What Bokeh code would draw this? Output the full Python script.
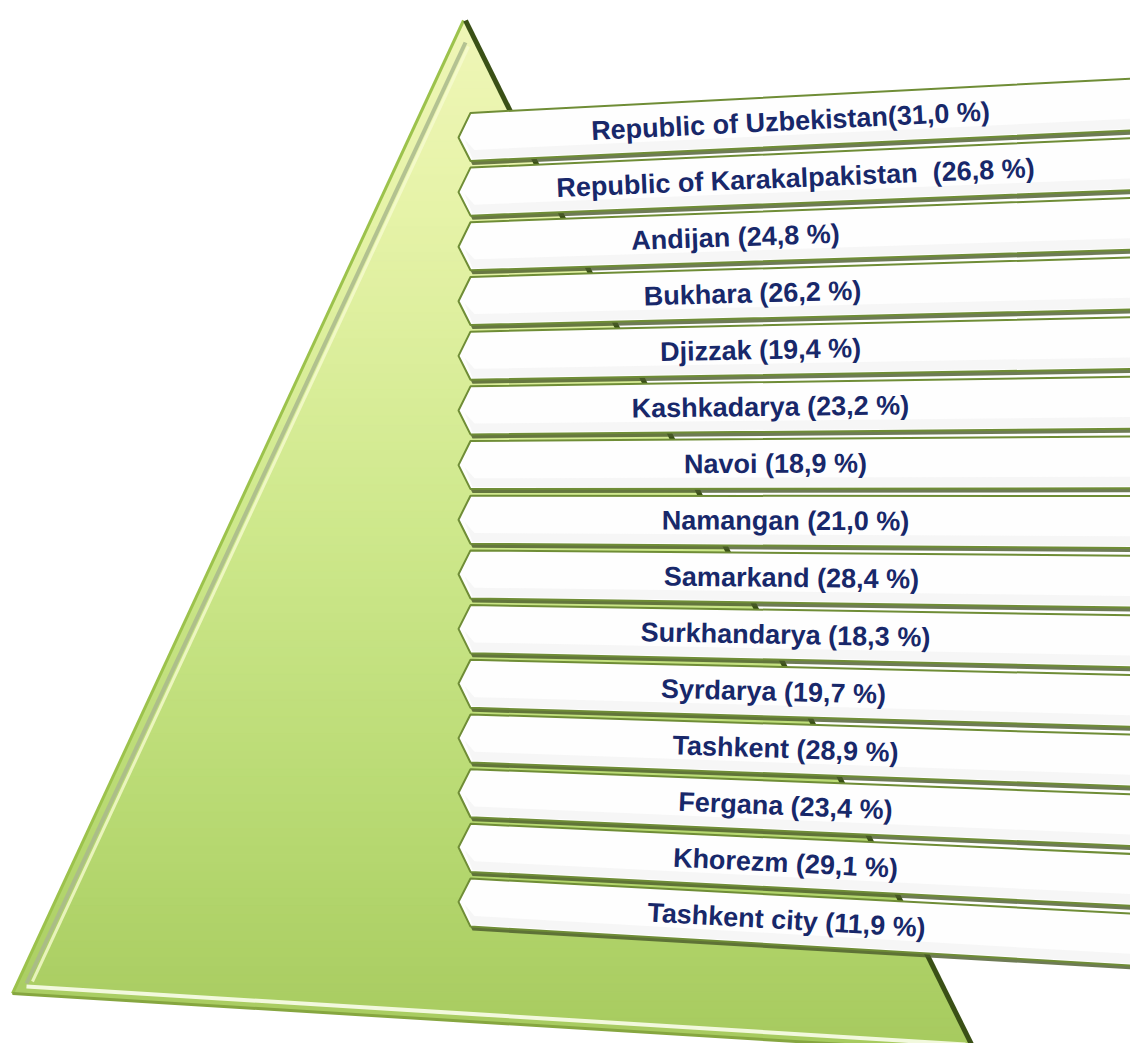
import math
from bokeh.plotting import figure
from bokeh.models import Range1d
from bokeh.embed import file_html
from bokeh.resources import INLINE
from bokeh.core.properties import value

# ---------------- data ----------------
regions = ["Republic of Uzbekistan", "Republic of Karakalpakistan", "Andijan", "Bukhara",
           "Djizzak", "Kashkadarya", "Navoi", "Namangan", "Samarkand", "Surkhandarya",
           "Syrdarya", "Tashkent", "Fergana", "Khorezm", "Tashkent city"]
shares = [31.0, 26.8, 24.8, 26.2, 19.4, 23.2, 18.9, 21.0, 28.4, 18.3, 19.7, 28.9, 23.4, 29.1, 11.9]
separators = ["", " \u00a0", " ", " ", " ", " ", " ", " ", " ", " ", " ", " ", " ", " ", " "]

labels = [f"{r}{s}({format(v, '.1f').replace('.', ',')} %)"
          for r, s, v in zip(regions, separators, shares)]

# ---------------- layout (screen-pixel coordinates) ----------------
W, H = 1130, 1043
p = figure(width=W, height=H, output_backend="svg", toolbar_location=None,
           x_range=Range1d(0, W), y_range=Range1d(H, 0),
           min_border=0, outline_line_color=None, background_fill_color="white")
p.axis.visible = False
p.grid.visible = False

# pyramid triangle
A, B, C = (463, 20), (975, 1052), (12, 993)
tri = [A, B, C]


def clip(pts, keep, ycut):
    out = []
    n = len(pts)
    for k in range(n):
        P, Q = pts[k], pts[(k + 1) % n]
        pin, qin = keep(P), keep(Q)
        if pin:
            out.append(P)
        if pin != qin:
            t = (ycut - P[1]) / (Q[1] - P[1])
            out.append((P[0] + t * (Q[0] - P[0]), ycut))
    return out


def band(pts, y0, y1):
    pts = clip(pts, lambda q: q[1] >= y0, y0)
    if not pts:
        return pts
    return clip(pts, lambda q: q[1] <= y1, y1)


stops = [(0.0, (240, 246, 184)), (0.2, (230, 243, 168)), (0.5, (206, 232, 140)),
         (0.8, (182, 216, 112)), (1.0, (166, 202, 94))]


def grad(t):
    for (t0, c0), (t1, c1) in zip(stops[:-1], stops[1:]):
        if t <= t1:
            f = (t - t0) / (t1 - t0)
            return "#%02x%02x%02x" % tuple(int(round(a + (b - a) * f)) for a, b in zip(c0, c1))
    return "#%02x%02x%02x" % stops[-1][1]


xs, ys, cols = [], [], []
nb = 120
for k in range(nb):
    y0 = 20 + (1052 - 20) * k / nb
    y1 = 20 + (1052 - 20) * (k + 1) / nb
    poly = band(tri, y0, y1)
    if len(poly) >= 3:
        xs.append([q[0] for q in poly])
        ys.append([q[1] for q in poly])
        cols.append(grad((y0 + y1) / 2 / 1052))
p.patches(xs, ys, fill_color=cols, line_color=cols, line_width=1)

# bevel edges
p.line([A[0] + 2, C[0] + 14], [A[1] + 22, C[1] - 10], line_color="#a9b98c", line_width=4, line_alpha=0.85)
p.line([A[0] + 5, C[0] + 20], [A[1] + 26, C[1] - 12], line_color="#f6fbd0", line_width=3, line_alpha=0.8)
p.line([A[0], C[0]], [A[1], C[1]], line_color="#9cc24c", line_width=3)
p.line([C[0] + 14, B[0] - 10], [C[1] - 7, B[1] - 8], line_color="#f6fbe4", line_width=4, line_alpha=0.95)
p.line([C[0], B[0]], [C[1], B[1]], line_color="#86a640", line_width=3)
p.line([A[0] + 2, B[0]], [A[1], B[1]], line_color="#3a5016", line_width=5)

# banners
XL, XR = 458, 1152
yl0, dyl = 137, 54.6
yr0, dyr = 103, 59.8
hl, hr = 24, 26
il, ir = 12, 16
label_x = [790, 795, 735, 752, 760, 770, 775, 785, 791, 785, 773, 785, 785, 785, 786]

for i, lab in enumerate(labels):
    yl = yl0 + i * dyl
    yr = yr0 + i * dyr

    def yc(x):
        return yl + (yr - yl) * (x - XL) / (XR - XL)

    def hh(x):
        return hl + (hr - hl) * (x - XL) / (XR - XL)

    x1, x2 = XL + il, XR - ir
    bx = [XL, x1, x2, XR, x2, x1]
    by = [yc(XL), yc(x1) - hh(x1), yc(x2) - hh(x2), yc(XR), yc(x2) + hh(x2), yc(x1) + hh(x1)]
    # shadow
    p.patch([x + 2 for x in bx], [y + 4 for y in by], fill_color="#4a5a2a", fill_alpha=0.8,
            line_color=None)
    # banner body
    p.patch(bx, by, fill_color="#fefefe", line_color="#6f8d36", line_width=2)
    # lower soft grey
    lx = [x1 + 4, x2 - 4, XR - 6, x2 - 2, x1 + 2, XL + 6]
    ly = [yc(x1 + 4) + hh(x1) * 0.55, yc(x2 - 4) + hh(x2) * 0.55, yc(XR - 6) + 2,
          yc(x2 - 2) + hh(x2) - 2, yc(x1 + 2) + hh(x1) - 2, yc(XL + 6) + 2]
    p.patch(lx, ly, fill_color="#e6e6e6", fill_alpha=0.3, line_color=None)
    # label
    ang = math.atan2(-(yr - yl), XR - XL)
    tx = label_x[i]
    p.text([tx], [yc(tx)], text=[lab], angle=ang, text_align="center", text_baseline="middle",
           text_font=value("Liberation Sans"), text_font_style="bold", text_font_size="27px",
           text_color="#18286a")

open("out.html", "w").write(file_html(p, INLINE))
